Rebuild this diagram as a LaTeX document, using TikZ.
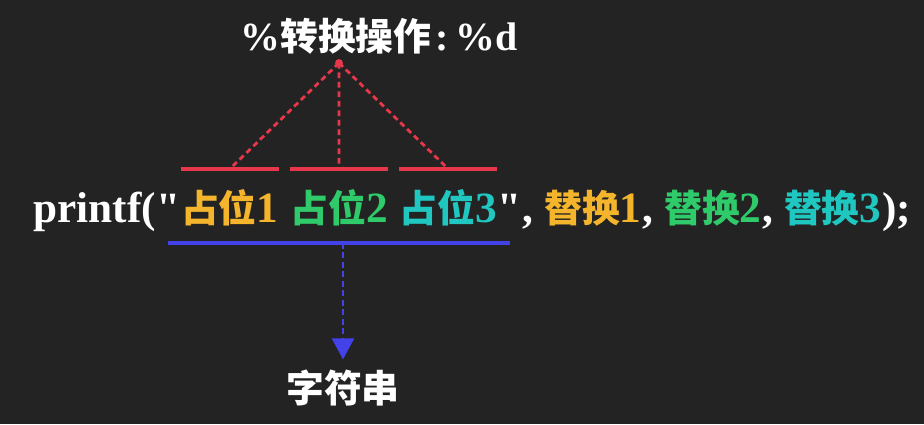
\documentclass[tikz,border=0pt]{standalone}
\usepackage{fontspec}
\setmainfont{Liberation Serif}
\newfontfamily\cjk{Noto Sans CJK SC}
\usetikzlibrary{arrows.meta}
\definecolor{bgcol}{HTML}{232323}
\definecolor{yel}{HTML}{F4B52C}
\definecolor{grn}{HTML}{2FCB6B}
\definecolor{cyn}{HTML}{20C7C0}
\definecolor{redc}{HTML}{E6374B}
\definecolor{bluec}{HTML}{4242E8}
\newcommand{\zh}[1]{{\cjk\fontsize{21.5pt}{26pt}\selectfont #1}}

\begin{document}
\begin{tikzpicture}[x=0.02cm, y=-0.02cm,
    code/.style={inner sep=0pt, anchor=base west, text=white, font=\fontsize{24.6pt}{30pt}\selectfont\bfseries},
    title/.style={inner sep=0pt, anchor=base, text=white, font=\fontsize{22.7pt}{27pt}\selectfont\bfseries},
    redbar/.style={draw=redc, line width=2.8pt},
    bluebar/.style={draw=bluec, line width=2.8pt},
    reddash/.style={draw=redc, line width=1.6pt, dash pattern=on 3.2pt off 2.2pt},
    bluedash/.style={draw=bluec, line width=1.6pt, dash pattern=on 3.2pt off 2.2pt, -{Triangle[length=12pt,width=12.5pt]}, shorten >=5.5pt},
    dot/.style={circle, fill=redc, minimum size=4.5pt, inner sep=0pt},
    ]
  \fill[bgcol] (0,0) rectangle (924,424);

  \node[code] (fn) at (33,222) {printf(};
  \node[code] (lq) at (fn.base east) {\textquotedbl};
  \node[code, text=yel] (p1) at (lq.base east) {\zh{占位}1};
  \node[code, text=grn] (p2) at ([xshift=6.5pt]p1.base east) {\zh{占位}2};
  \node[code, text=cyn] (p3) at ([xshift=6.5pt]p2.base east) {\zh{占位}3};
  \node[code] (rq) at (p3.base east) {\textquotedbl};
  \node[code] (k0) at (rq.base east) {,};
  \node[code, text=yel] (r1) at ([xshift=6pt]k0.base east) {\zh{替换}1};
  \node[code] (k1) at (r1.base east) {,};
  \node[code, text=grn] (r2) at ([xshift=6pt]k1.base east) {\zh{替换}2};
  \node[code] (k2) at (r2.base east) {,};
  \node[code, text=cyn] (r3) at ([xshift=6pt]k2.base east) {\zh{替换}3};
  \node[code] (fin) at (r3.base east) {);};

  \coordinate (redrow) at (0,169);
  \coordinate (bluerow) at (0,243);

  \node[title] (conv) at (379,50) {\%\zh{转换操作}\kern2pt:\kern4pt\%d};
  \node[dot] (top) at (339,63) {};
  \node[title] (str) at (343,402) {\zh{字符串}};

  \draw[redbar] (p1.west |- redrow) -- (p1.east |- redrow);
  \draw[redbar] (p2.west |- redrow) -- (p2.east |- redrow);
  \draw[redbar] (p3.west |- redrow) -- (p3.east |- redrow);
  \draw[reddash] (top.center) -- (p1 |- redrow);
  \draw[reddash] (top.center) -- (p2 |- redrow);
  \draw[reddash] (top.center) -- (p3 |- redrow);

  \draw[bluebar] (lq |- bluerow) -- (rq |- bluerow);
  \draw[bluedash] (str.north |- bluerow) -- (str.north);
\end{tikzpicture}
\end{document}
